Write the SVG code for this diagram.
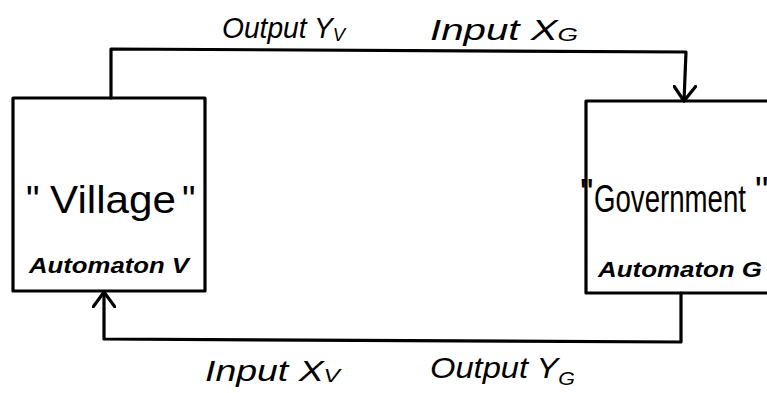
<svg xmlns="http://www.w3.org/2000/svg" width="767" height="393" viewBox="0 0 767 393">
<style>
.box{fill:#fff;stroke:#000;stroke-width:3.2;stroke-linejoin:round}
.wire{fill:none;stroke:#000;stroke-width:3.2;stroke-linejoin:round;stroke-linecap:round}
.lbl{font-family:"Liberation Sans",Arial,sans-serif;font-style:italic;font-size:29px;fill:#000}
.name{font-family:"Liberation Sans",Arial,sans-serif;font-size:38px;fill:#000}
.auto{font-family:"Liberation Sans",Arial,sans-serif;font-weight:bold;font-style:italic;font-size:22px;fill:#000}
.sub{font-size:19px}
</style>
<defs>
<marker id="arr" viewBox="-16 -12 18 24" refX="0" refY="0" markerWidth="18" markerHeight="24" markerUnits="userSpaceOnUse" orient="auto">
<path d="M-15,-11 L0,0 L-15,11" fill="none" stroke="#000" stroke-width="3.2" stroke-linecap="round" stroke-linejoin="round"/>
</marker>
</defs>
<rect width="767" height="393" fill="#fff"/>
<g id="village">
<rect class="box" x="13" y="98" width="192" height="193"/>
<text class="name" x="26" y="213">"</text>
<text class="name" x="50" y="213" textLength="126" lengthAdjust="spacingAndGlyphs">Village</text>
<text class="name" x="182" y="213">"</text>
<text class="auto" x="29" y="273" textLength="160" lengthAdjust="spacingAndGlyphs">Automaton V</text>
</g>
<g id="government">
<rect class="box" x="586" y="101" width="184" height="192"/>
<text class="name" x="580" y="206" font-size="26">"</text>
<text class="name" x="594" y="212" font-size="34" textLength="152" lengthAdjust="spacingAndGlyphs">Government</text>
<text class="name" x="755" y="204" font-size="26">"</text>
<text class="auto" x="598" y="277" textLength="164" lengthAdjust="spacingAndGlyphs">Automaton G</text>
</g>
<g id="connectors">
<polyline class="wire" points="111,98 111,49 686,52 684,101" marker-end="url(#arr)"/>
<polyline class="wire" points="681,293 681,342 104,339 104,292" marker-end="url(#arr)"/>
</g>
<g id="labels">
<text class="lbl" x="222" y="38" textLength="123" lengthAdjust="spacingAndGlyphs">Output Y<tspan class="sub" dy="3">V</tspan></text>
<text class="lbl" x="430" y="40" textLength="148" lengthAdjust="spacingAndGlyphs">Input X<tspan class="sub" dy="1">G</tspan></text>
<text class="lbl" x="205" y="381" textLength="135" lengthAdjust="spacingAndGlyphs">Input X<tspan class="sub" dy="1">V</tspan></text>
<text class="lbl" x="430" y="378" textLength="145" lengthAdjust="spacingAndGlyphs">Output Y<tspan class="sub" dy="7">G</tspan></text>
</g>
</svg>
